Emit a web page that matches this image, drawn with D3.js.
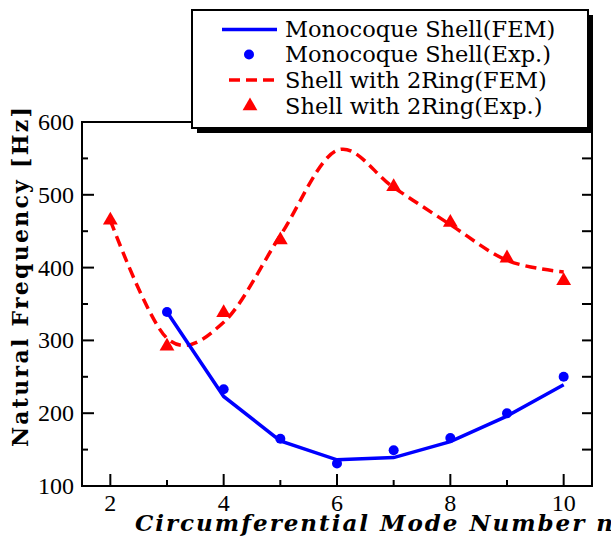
<!DOCTYPE html>
<html>
<head>
<meta charset="utf-8">
<script src="https://cdn.jsdelivr.net/npm/d3@7"></script>
<style>
  html, body { margin: 0; padding: 0; background: #fff; }
</style>
</head>
<body>
<div id="chart"></div>
<script>
'use strict';

// values
const monoModes = [3, 4, 5, 6, 7, 8, 9, 10];
const monoFem = [339, 223, 162, 136, 139, 161, 196, 239];
const monoExp = [339, 233, 165, 131, 149, 166, 200, 250];

const ringFemModes = [2, 3, 4, 5, 6, 7, 8, 9, 10];
const ringFem = [465, 303, 325, 444, 561, 510, 459, 410, 394];
const ringExpModes = [2, 3, 4, 5, 7, 8, 9, 10];
const ringExp = [465, 292, 338, 438, 511, 462, 413, 382];

const xTicks = [2, 4, 6, 8, 10];
const xMinorTicks = [3, 5, 7, 9];
const yTicks = [100, 200, 300, 400, 500, 600];
const yMinorTicks = [150, 250, 350, 450, 550];

const legendLabels = [
    'Monocoque Shell(FEM)',
    'Monocoque Shell(Exp.)',
    'Shell with 2Ring(FEM)',
    'Shell with 2Ring(Exp.)'
];

const width = 611;
const height = 545;
const blue = '#0000ff';
const red = '#ff0000';

const svg = d3.select('#chart')
    .append('svg')
    .attr('width', width)
    .attr('height', height);

const xScale = d3.scaleLinear()
    .domain([1.5, 10.5])
    .range([82, 592]);

const yScale = d3.scaleLinear()
    .domain([100, 600])
    .range([486, 122]);

const plotLeft = xScale.range()[0];
const plotRight = xScale.range()[1];
const plotTop = yScale.range()[1];
const plotBottom = yScale.range()[0];

// frame
svg.append('rect')
    .attr('x', plotLeft)
    .attr('y', plotTop)
    .attr('width', plotRight - plotLeft)
    .attr('height', plotBottom - plotTop)
    .attr('fill', 'none')
    .attr('stroke', '#000')
    .attr('stroke-width', 2);

// bottom ticks (inward)
svg.append('g')
    .selectAll('line')
    .data(xTicks.map(function (v) { return { v: v, len: 12 }; })
        .concat(xMinorTicks.map(function (v) { return { v: v, len: 6 }; })))
    .join('line')
    .attr('x1', function (d) { return xScale(d.v); })
    .attr('x2', function (d) { return xScale(d.v); })
    .attr('y1', plotBottom)
    .attr('y2', function (d) { return plotBottom - d.len; })
    .attr('stroke', '#000')
    .attr('stroke-width', 2);

// left ticks (inward)
svg.append('g')
    .selectAll('line')
    .data(yTicks.map(function (v) { return { v: v, len: 12 }; })
        .concat(yMinorTicks.map(function (v) { return { v: v, len: 6 }; })))
    .join('line')
    .attr('x1', plotLeft)
    .attr('x2', function (d) { return plotLeft + d.len; })
    .attr('y1', function (d) { return yScale(d.v); })
    .attr('y2', function (d) { return yScale(d.v); })
    .attr('stroke', '#000')
    .attr('stroke-width', 2);

// right ticks (inward)
svg.append('g')
    .selectAll('line')
    .data(yTicks.concat(yMinorTicks))
    .join('line')
    .attr('x1', plotRight)
    .attr('x2', plotRight - 10)
    .attr('y1', function (d) { return yScale(d); })
    .attr('y2', function (d) { return yScale(d); })
    .attr('stroke', '#000')
    .attr('stroke-width', 2);

// tick labels
svg.append('g')
    .selectAll('text')
    .data(xTicks)
    .join('text')
    .attr('x', function (d) { return xScale(d); })
    .attr('y', 511)
    .attr('text-anchor', 'middle')
    .attr('font-family', '"Liberation Serif", "Times New Roman", serif')
    .attr('font-size', 24)
    .text(function (d) { return d; });

svg.append('g')
    .selectAll('text')
    .data(yTicks)
    .join('text')
    .attr('x', 74)
    .attr('y', function (d) { return yScale(d) + 8; })
    .attr('text-anchor', 'end')
    .attr('font-family', '"Liberation Serif", "Times New Roman", serif')
    .attr('font-size', 24)
    .text(function (d) { return d; });

// axis titles
svg.append('text')
    .attr('x', 135)
    .attr('y', 531)
    .attr('font-family', '"DejaVu Serif", serif')
    .attr('font-weight', 700)
    .attr('font-style', 'italic')
    .attr('font-size', 23)
    .attr('textLength', 478)
    .attr('lengthAdjust', 'spacing')
    .text('Circumferential Mode Number n');

svg.append('text')
    .attr('transform', 'translate(28,447) rotate(-90)')
    .attr('font-family', '"DejaVu Serif", serif')
    .attr('font-weight', 700)
    .attr('font-size', 22)
    .attr('textLength', 340)
    .attr('lengthAdjust', 'spacing')
    .text('Natural Frequency [Hz]');

// shell with rings, FEM (smooth dashed)
const ringFemLine = d3.line()
    .x(function (d, i) { return xScale(ringFemModes[i]); })
    .y(function (d) { return yScale(d); })
    .curve(d3.curveCatmullRom.alpha(0));

svg.append('path')
    .datum(ringFem)
    .attr('d', ringFemLine)
    .attr('fill', 'none')
    .attr('stroke', red)
    .attr('stroke-width', 3.5)
    .attr('stroke-dasharray', '11,6');

// shell with rings, Exp.
const triangle = d3.symbol().type(d3.symbolTriangle).size(95);

svg.append('g')
    .selectAll('path')
    .data(ringExp)
    .join('path')
    .attr('d', triangle)
    .attr('transform', function (d, i) {
        return `translate(${xScale(ringExpModes[i])},${yScale(d)})`;
    })
    .attr('fill', red);

// monocoque, FEM
const monoLine = d3.line()
    .x(function (d, i) { return xScale(monoModes[i]); })
    .y(function (d) { return yScale(d); });

svg.append('path')
    .datum(monoFem)
    .attr('d', monoLine)
    .attr('fill', 'none')
    .attr('stroke', blue)
    .attr('stroke-width', 3.5);

// monocoque, Exp.
svg.append('g')
    .selectAll('circle')
    .data(monoExp)
    .join('circle')
    .attr('cx', function (d, i) { return xScale(monoModes[i]); })
    .attr('cy', function (d) { return yScale(d); })
    .attr('r', 5)
    .attr('fill', blue);

// legend
const legend = svg.append('g');

legend.append('rect')
    .attr('x', 197)
    .attr('y', 15)
    .attr('width', 396)
    .attr('height', 118)
    .attr('fill', '#000');

legend.append('rect')
    .attr('x', 192)
    .attr('y', 10)
    .attr('width', 396)
    .attr('height', 118)
    .attr('fill', '#fff')
    .attr('stroke', '#000')
    .attr('stroke-width', 2);

const rowY = [29.5, 54.5, 80, 106];

legend.append('line')
    .attr('x1', 222).attr('x2', 277)
    .attr('y1', rowY[0]).attr('y2', rowY[0])
    .attr('stroke', blue)
    .attr('stroke-width', 3.5);

legend.append('circle')
    .attr('cx', 249)
    .attr('cy', rowY[1])
    .attr('r', 5)
    .attr('fill', blue);

legend.append('line')
    .attr('x1', 229).attr('x2', 277)
    .attr('y1', rowY[2]).attr('y2', rowY[2])
    .attr('stroke', red)
    .attr('stroke-width', 3.5)
    .attr('stroke-dasharray', '11,6');

legend.append('path')
    .attr('d', triangle)
    .attr('transform', `translate(250,${rowY[3]})`)
    .attr('fill', red);

legend.selectAll('text.legend-label')
    .data(legendLabels)
    .join('text')
    .attr('class', 'legend-label')
    .attr('x', 285)
    .attr('y', function (d, i) { return rowY[i] + 7.5; })
    .attr('font-family', '"DejaVu Serif", serif')
    .attr('font-size', 22.5)
    .text(function (d) { return d; });
</script>
</body>
</html>
